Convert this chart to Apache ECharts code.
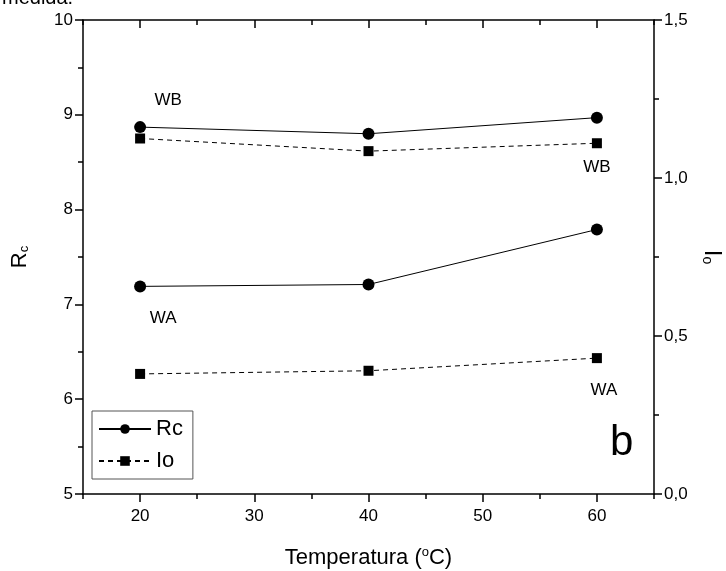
<!DOCTYPE html>
<html>
<head>
<meta charset="utf-8">
<script src="https://cdn.jsdelivr.net/npm/echarts@6/dist/echarts.min.js"></script>
<style>html,body{margin:0;padding:0;background:#fff}#c{width:726px;height:571px}</style>
</head>
<body>
<div id="c"></div>
<script>
const temps = [20, 40, 60];
const rcWB = [8.87, 8.80, 8.97];
const rcWA = [7.19, 7.21, 7.79];
const ioWB = [1.125, 1.085, 1.11];
const ioWA = [0.38, 0.39, 0.43];
const xLabelTicks = [20, 30, 40, 50, 60];
const xMinorTicks = [15, 25, 35, 45, 55, 65];
const rcLabelWB = ['WB', '', ''];
const rcLabelWA = ['WA', '', ''];
const ioLabelWB = ['', '', 'WB'];
const ioLabelWA = ['', '', 'WA'];

const FONT = 'Liberation Sans, Arial, sans-serif';
function build(vals, labels, offset) {
  return vals.map((v, i) => {
    const item = { value: [temps[i], v] };
    if (labels[i]) {
      item.label = { show: true, formatter: labels[i], position: 'inside', offset: offset,
        color: '#000', fontSize: 17, fontFamily: FONT };
    }
    return item;
  });
}

const axisLine = { show: true, lineStyle: { color: '#000', width: 1.5 } };
const tickStyle = { color: '#000', width: 1.5 };
function minorAxis(pos, inside, len) {
  return {
    type: 'value', min: 15, max: 65, interval: 5, position: pos,
    axisLine: { show: false },
    axisTick: { show: true, inside: inside, length: len, lineStyle: tickStyle, customValues: xMinorTicks },
    axisLabel: { show: false },
    splitLine: { show: false }
  };
}
const chart = echarts.init(document.getElementById('c'), null, { renderer: 'canvas' });
chart.setOption({
  animation: false,
  backgroundColor: '#fff',
  grid: { left: 83, right: 72, top: 20, bottom: 77, containLabel: false, outerBoundsMode: 'none' },
  graphic: [
    { type: 'text', left: 2, top: -12, style: { text: 'medida.', font: '20px ' + FONT, fill: '#000' } },
    { type: 'text', left: 610, top: 422, style: { text: 'b', font: '42px ' + FONT, fill: '#000' } }
  ],
  legend: {
    left: 92, top: 411, orient: 'vertical',
    borderColor: '#555', borderWidth: 1, padding: [7, 10, 7, 6], itemGap: 10,
    itemWidth: 52, itemHeight: 12,
    textStyle: { fontSize: 22, fontFamily: FONT, color: '#000' },
    data: ['Rc', 'Io']
  },
  xAxis: [
    {
      type: 'value', min: 15, max: 65, interval: 5, position: 'bottom',
      axisLine: axisLine,
      axisTick: { show: true, inside: false, length: 8, lineStyle: tickStyle, customValues: xLabelTicks },
      axisLabel: { show: true, customValues: xLabelTicks, margin: 14, fontSize: 17, fontFamily: FONT, color: '#000' },
      splitLine: { show: false },
      name: 'Temperatura ({sup|o}C)', nameLocation: 'middle', nameGap: 52,
      nameTextStyle: { fontSize: 22, fontFamily: FONT, color: '#000',
        rich: { sup: { fontSize: 13, fontFamily: FONT, color: '#000', verticalAlign: 'top', padding: [0, 0, 10, 0] } } }
    },
    minorAxis('bottom', false, 5),
    {
      type: 'value', min: 15, max: 65, interval: 5, position: 'top',
      axisLine: axisLine,
      axisTick: { show: true, inside: true, length: 8, lineStyle: tickStyle, customValues: xLabelTicks },
      axisLabel: { show: false },
      splitLine: { show: false }
    },
    minorAxis('top', true, 5)
  ],
  yAxis: [
    {
      type: 'value', min: 5, max: 10, interval: 1, position: 'left',
      axisLine: axisLine,
      axisTick: { show: true, inside: false, length: 8, lineStyle: tickStyle },
      minorTick: { show: true, splitNumber: 2, length: 5, lineStyle: tickStyle },
      axisLabel: { fontSize: 17, fontFamily: FONT, color: '#000', margin: 10 },
      splitLine: { show: false },
      name: 'R{sub|c}', nameLocation: 'middle', nameGap: 52, nameRotate: 90,
      nameTextStyle: { fontSize: 22, fontFamily: FONT, color: '#000',
        rich: { sub: { fontSize: 13, fontFamily: FONT, color: '#000', verticalAlign: 'bottom', padding: [10, 0, 0, 0] } } }
    },
    {
      type: 'value', min: 0, max: 1.5, interval: 0.5, position: 'right',
      axisLine: axisLine,
      axisTick: { show: true, inside: false, length: 8, lineStyle: tickStyle },
      minorTick: { show: true, splitNumber: 2, length: 5, lineStyle: tickStyle },
      axisLabel: { fontSize: 17, fontFamily: FONT, color: '#000', margin: 10,
        formatter: v => v.toFixed(1).replace('.', ',') },
      splitLine: { show: false },
      name: 'I{sub|o}', nameLocation: 'middle', nameGap: 46, nameRotate: -90,
      nameTextStyle: { fontSize: 24, fontFamily: FONT, color: '#000',
        rich: { sub: { fontSize: 14, fontFamily: FONT, color: '#000', verticalAlign: 'bottom', padding: [10, 0, 0, 0] } } }
    }
  ],
  series: [
    { name: 'Rc', type: 'line', yAxisIndex: 0, data: build(rcWB, rcLabelWB, [28, -27]),
      symbol: 'circle', symbolSize: 12, itemStyle: { color: '#000' }, lineStyle: { color: '#000', width: 1 } },
    { name: 'Rc', type: 'line', yAxisIndex: 0, data: build(rcWA, rcLabelWA, [23, 32]),
      symbol: 'circle', symbolSize: 12, itemStyle: { color: '#000' }, lineStyle: { color: '#000', width: 1 } },
    { name: 'Io', type: 'line', yAxisIndex: 1, data: build(ioWB, ioLabelWB, [0, 24]),
      symbol: 'rect', symbolSize: 10, itemStyle: { color: '#000' }, lineStyle: { color: '#000', width: 1, type: [5, 4] } },
    { name: 'Io', type: 'line', yAxisIndex: 1, data: build(ioWA, ioLabelWA, [7, 32]),
      symbol: 'rect', symbolSize: 10, itemStyle: { color: '#000' }, lineStyle: { color: '#000', width: 1, type: [5, 4] } }
  ]
});
</script>
</body>
</html>
